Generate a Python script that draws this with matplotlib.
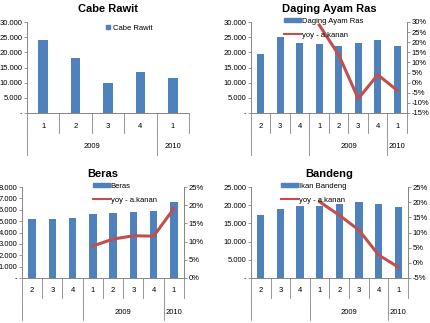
import matplotlib
matplotlib.use("Agg")
import matplotlib.pyplot as plt
from matplotlib.ticker import FuncFormatter, MultipleLocator
from matplotlib.patches import Patch
from matplotlib.lines import Line2D

plt.rcParams['font.family'] = ['Liberation Sans Narrow', 'Liberation Sans', 'DejaVu Sans']

# ---- data ----
cabe_q = ["1", "2", "3", "4", "1"]
cabe_years = [("2009", 0, 3), ("2010", 4, 4)]
cabe_val = [24000, 18000, 9800, 13500, 11700]

q8 = ["2", "3", "4", "1", "2", "3", "4", "1"]
years8 = [("", 0, 2), ("2009", 3, 6), ("2010", 7, 7)]

ayam_val = [19500, 25200, 23200, 22800, 22200, 23000, 24000, 22000]
ayam_yoy = [None, None, None, 28.5, 13.7, -7.9, 3.9, -3.8]

beras_val = [5150, 5200, 5250, 5600, 5700, 5800, 5900, 6650]
beras_yoy = [None, None, None, 8.8, 10.7, 11.6, 11.5, 19.1]

bandeng_val = [17300, 19000, 19700, 19700, 20300, 21000, 20300, 19400]
bandeng_yoy = [None, None, None, 20.1, 15.7, 10.8, 2.6, -1.4]

BLUE = "#4F81BD"
RED = "#C0504D"
GRAY = "#868686"
W, H = 431, 323

fig = plt.figure(figsize=(W / 100, H / 100), dpi=100)


def add_ax(l, t, r, b):
    return fig.add_axes([l / W, 1 - b / H, (r - l) / W, (b - t) / H])


def thousands(v, pos):
    if v == 0:
        return "-"
    return f"{int(v):,}".replace(",", ".")


def style_left(ax, ymax, step):
    ax.set_ylim(0, ymax)
    ax.yaxis.set_major_locator(MultipleLocator(step))
    ax.yaxis.set_major_formatter(FuncFormatter(thousands))
    for s in ["top", "right"]:
        ax.spines[s].set_visible(False)
    for s in ["left", "bottom"]:
        ax.spines[s].set_color(GRAY)
        ax.spines[s].set_linewidth(0.7)
    ax.tick_params(axis="y", labelsize=5.5, length=2, width=0.6, color=GRAY, pad=1.5)
    ax.set_xticks([])


def cat_axis(ax, labels, groups, axh):
    n = len(labels)
    ax.set_xlim(-0.5, n - 0.5)
    tr = ax.get_xaxis_transform()
    r1 = 20 / axh
    r2 = 42 / axh
    for i in range(n + 1):
        ax.plot([i - 0.5, i - 0.5], [0, -r1], color=GRAY, lw=0.6, transform=tr, clip_on=False)
    for i, lab in enumerate(labels):
        ax.text(i, -13 / axh, lab, transform=tr, ha="center", va="center", fontsize=5.5)
    for name, a, b in groups:
        ax.plot([a - 0.5, a - 0.5], [-r1, -r2], color=GRAY, lw=0.6, transform=tr, clip_on=False)
        ax.text((a + b) / 2, -34 / axh, name, transform=tr, ha="center", va="center", fontsize=5.5)


def pct_axis(ax, lo, hi):
    ax.set_ylim(lo, hi)
    ax.yaxis.set_major_locator(MultipleLocator(5))
    ax.yaxis.set_major_formatter(FuncFormatter(lambda v, p: f"{int(round(v))}%"))
    for s in ["top", "left", "bottom"]:
        ax.spines[s].set_visible(False)
    ax.spines["right"].set_color(GRAY)
    ax.spines["right"].set_linewidth(0.7)
    ax.tick_params(axis="y", labelsize=5.5, length=2, width=0.6, color=GRAY, pad=1.5)


def panel(rect, title, title_y, labels, groups, vals, ymax, step, bw,
          bar_label, yoy=None, pct=None, leg_xy=None, small_key=False):
    l, t, r, b = rect
    ax = add_ax(l, t, r, b)
    x = list(range(len(vals)))
    ax.bar(x, vals, width=bw, color=BLUE, zorder=2)
    style_left(ax, ymax, step)
    cat_axis(ax, labels, groups, b - t)
    fig.text(((l + r) / 2) / W, 1 - title_y / H, title, ha="center", va="center",
             fontsize=8, fontweight="bold", family=["Liberation Sans", "DejaVu Sans"])
    handles = [Patch(color=BLUE, label=bar_label)]
    if yoy is not None:
        ax2 = ax.twinx()
        xs = [i for i, v in enumerate(yoy) if v is not None]
        ys = [v for v in yoy if v is not None]
        ax2.plot(xs, ys, color=RED, lw=2.2, zorder=3)
        pct_axis(ax2, *pct)
        ax2.set_xlim(-0.5, len(vals) - 0.5)
        handles.append(Line2D([], [], color=RED, lw=1.5, label="yoy - a.kanan"))
    if small_key:
        leg = fig.legend(handles=handles, loc="upper left",
                         bbox_to_anchor=(leg_xy[0] / W, 1 - leg_xy[1] / H),
                         frameon=False, fontsize=5.5, handlelength=0.5, handleheight=0.5,
                         handletextpad=0.4, borderpad=0, borderaxespad=0)
    else:
        leg = fig.legend(handles=handles, loc="upper left",
                         bbox_to_anchor=(leg_xy[0] / W, 1 - leg_xy[1] / H),
                         frameon=False, fontsize=5.5, handlelength=2.2, handleheight=0.45,
                         handletextpad=0.1, labelspacing=0.9, borderpad=0, borderaxespad=0)
    return ax


panel((27, 22, 189, 113), "Cabe Rawit", 9, cabe_q, cabe_years, cabe_val,
      30000, 5000, 0.3, "Cabe Rawit", leg_xy=(106, 25), small_key=True)
panel((251, 22, 407, 113), "Daging Ayam Ras", 9, q8, years8, ayam_val,
      30000, 5000, 0.37, "Daging Ayam Ras", yoy=ayam_yoy, pct=(-15, 30), leg_xy=(284, 18))
panel((22, 187, 184, 278), "Beras", 174, q8, years8, beras_val,
      8000, 1000, 0.37, "Beras", yoy=beras_yoy, pct=(0, 25), leg_xy=(93, 183))
panel((251, 187, 408, 278), "Bandeng", 174, q8, years8, bandeng_val,
      25000, 5000, 0.37, "Ikan Bandeng", yoy=bandeng_yoy, pct=(-5, 25), leg_xy=(281, 183))

fig.savefig("out.png", dpi=100)
